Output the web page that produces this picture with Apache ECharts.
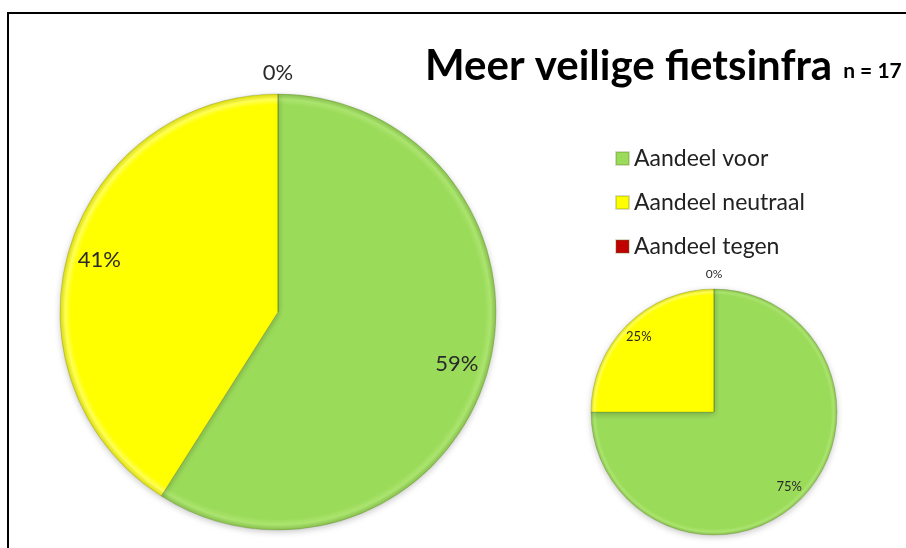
<!DOCTYPE html>
<html>
<head>
<meta charset="utf-8">
<script src="https://cdn.jsdelivr.net/npm/echarts@6/dist/echarts.min.js"></script>
<style>
    html, body { margin: 0; padding: 0; background: #fff; }
    #wrap { position: relative; width: 906px; height: 548px; overflow: hidden; }
    #frame { position: absolute; left: 7px; top: 12px; width: 920px; height: 560px;
             border-left: 2px solid #000; border-top: 2px solid #000; }
    #chart { position: absolute; left: 0; top: 0; width: 906px; height: 548px; }
</style>
</head>
<body>
<div id="wrap">
    <div id="frame"></div>
    <div id="chart"></div>
</div>
<script>
// categorieën en waarden
const categories = ['Aandeel voor', 'Aandeel neutraal', 'Aandeel tegen'];
const colors = ['#9BDB5A', '#FFFF00', '#C00000'];
const rimLight = ['#ABE46E', '#FFFF55', '#D02828'];
const rimDark = ['#86BF4C', '#DADA10', '#900000'];
const bigValues = [59, 41, 0];
const smallValues = [75, 25, 0];
const titleText = 'Meer veilige fietsinfra';
const subText = 'n = 17';

const labelFont = 'Lato, "Open Sans", sans-serif';

// vlak met een lichte "bevel" rand
function fillSeries(values, center, r) {
    return {
        type: 'pie',
        center: center,
        radius: [0, r],
        startAngle: 90,
        clockwise: true,
        silent: true,
        label: { show: false },
        labelLine: { show: false },
        itemStyle: {
            borderColor: 'rgba(90,110,40,0.25)',
            borderWidth: 1,
            shadowBlur: 6,
            shadowColor: 'rgba(0,0,0,0.22)',
            shadowOffsetY: 2
        },
        data: values.map((v, i) => ({
            name: categories[i],
            value: v,
            itemStyle: {
                color: new echarts.graphic.RadialGradient(center[0], center[1], r, [
                    { offset: 0, color: colors[i] },
                    { offset: 0.95, color: colors[i] },
                    { offset: 0.975, color: rimLight[i] },
                    { offset: 1, color: rimDark[i] }
                ], true)
            }
        }))
    };
}

// transparante ring alleen voor de labels
function labelSeries(values, center, r, inner, outer, fontSize, showZero) {
    return {
        type: 'pie',
        center: center,
        radius: [r * inner, r * outer],
        startAngle: 90,
        clockwise: true,
        silent: true,
        legendHoverLink: false,
        labelLine: { show: false },
        itemStyle: { color: 'rgba(0,0,0,0)' },
        label: {
            show: true,
            position: 'inside',
            fontFamily: labelFont,
            fontSize: fontSize,
            color: '#2a2a2a',
            formatter: p => ((p.value === 0) === showZero ? p.value + '%' : '')
        },
        data: values.map((v, i) => ({ name: categories[i] + ' ', value: v }))
    };
}

const bigCenter = [278, 312], bigR = 218;
const smallCenter = [714, 412], smallR = 123;

const chart = echarts.init(document.getElementById('chart'));
chart.setOption({
    animation: false,
    title: {
        text: '{a|' + titleText + '}{b|' + subText + '}',
        left: 420,
        top: 40,
        textStyle: {
            rich: {
                a: { fontFamily: 'Lato, sans-serif', fontWeight: 'bold', fontSize: 42, color: '#000' },
                b: { fontFamily: 'Lato, sans-serif', fontWeight: 'bold', fontSize: 21, color: '#000',
                     padding: [10, 0, 0, 11] }
            }
        }
    },
    legend: {
        data: categories.map((c, i) => ({ name: c, itemStyle: { color: colors[i] } })),
        orient: 'vertical',
        left: 610,
        top: 142,
        itemWidth: 13,
        itemHeight: 13,
        itemGap: 21,
        icon: 'rect',
        selectedMode: false,
        textStyle: { fontFamily: labelFont, fontSize: 23, color: '#222' }
    },
    color: colors,
    series: [
        fillSeries(bigValues, bigCenter, bigR),
        labelSeries(bigValues, bigCenter, bigR, 0.68, 1.0, 22, false),
        labelSeries(bigValues, bigCenter, bigR, 1.0, 1.17, 22, true),
        fillSeries(smallValues, smallCenter, smallR),
        labelSeries(smallValues, smallCenter, smallR, 0.68, 1.0, 13, false),
        labelSeries(smallValues, smallCenter, smallR, 1.0, 1.2, 12, true)
    ]
});
</script>
</body>
</html>
